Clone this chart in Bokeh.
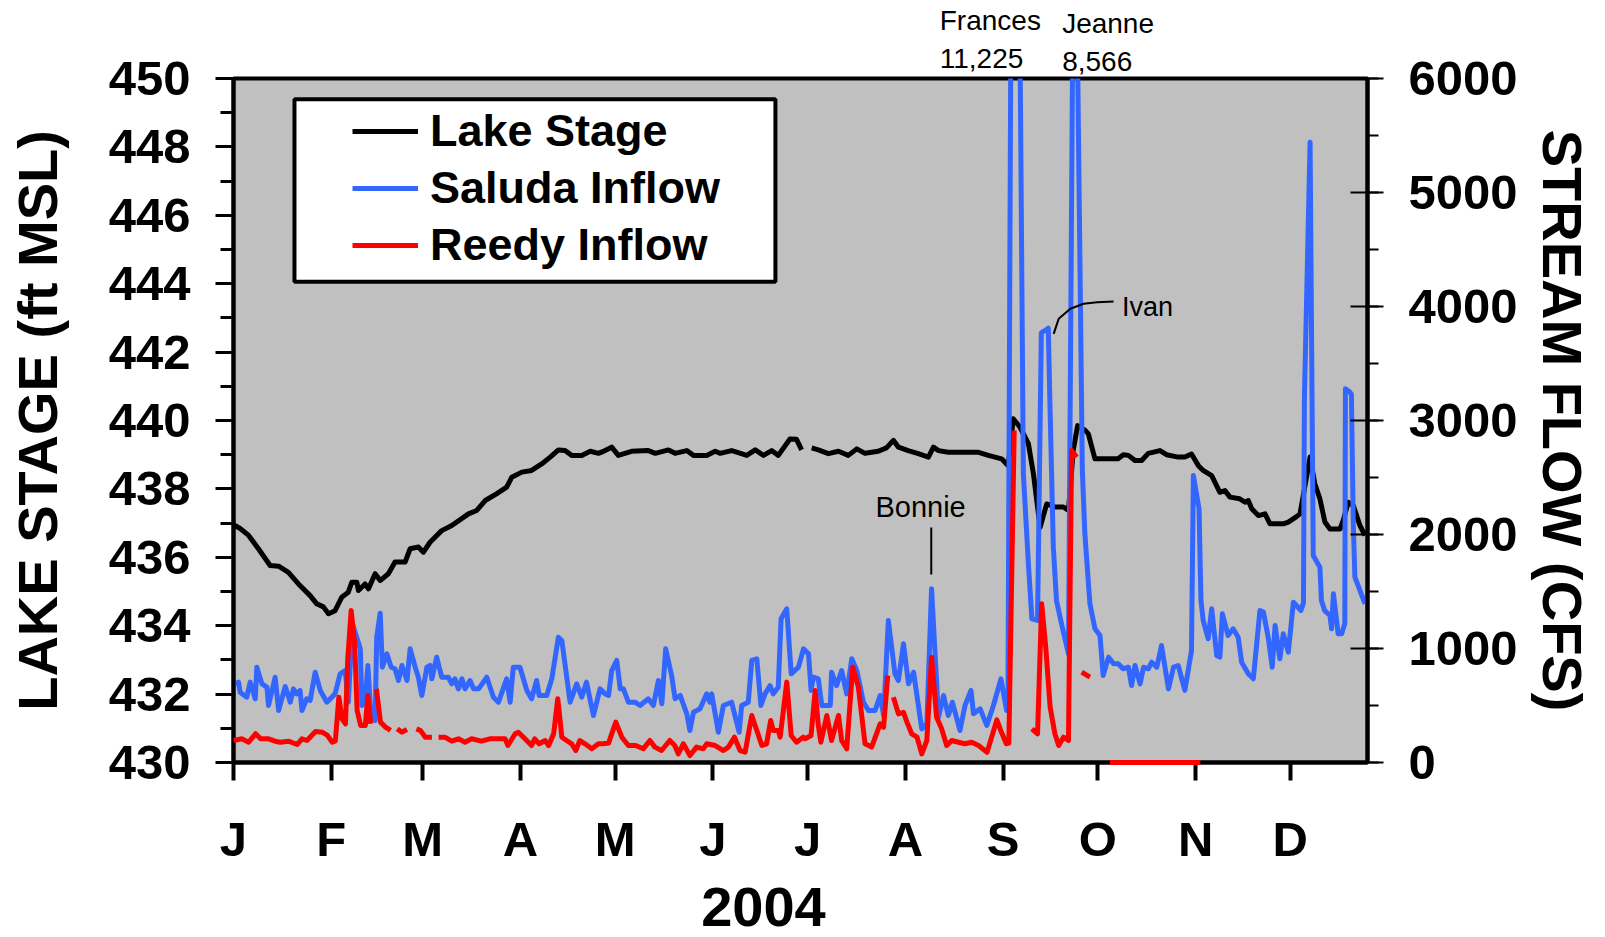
from bokeh.plotting import figure
from bokeh.layouts import column
from bokeh.models import (LinearAxis, Range1d, SingleIntervalTicker, FixedTicker,
                          Legend, LegendItem, Label, BoxAnnotation)
from bokeh.core.properties import value
from bokeh.embed import file_html
from bokeh.resources import INLINE

NaN = float("nan")

# ---------------- data (day of year 2004, 0 = Jan 1) ----------------
MONTH_DAYS = [0, 31, 60, 91, 121, 152, 182, 213, 244, 274, 305, 335]
MONTH_LABELS = ["J", "F", "M", "A", "M", "J", "J", "A", "S", "O", "N", "D"]

stage_day = [0.0, 2.0, 4.8, 7.9, 11.6, 14.3, 17.4, 20.6, 24.3, 26.4,
             28.5, 30.1, 32.2, 34.3, 36.4, 37.5, 39.1, 39.6, 41.7, 42.8,
             44.9, 46.5, 49.1, 51.2, 54.4, 56.0, 58.6, 60.2, 62.3, 66.0,
             69.2, 74.5, 77.1, 79.8, 83.5, 86.6, 88.2, 91.4, 94.5, 97.7,
             100.4, 103.0, 105.1, 107.2, 110.4, 113.1, 115.7, 117.8, 119.9, 122.0,
             126.2, 131.5, 133.7, 137.9, 140.0, 143.7, 145.8, 150.0, 152.7, 154.3,
             157.9, 160.0, 162.7, 165.4, 168.0, 170.6, 172.7, 176.4, 178.5, 180.1,
             181.5, 183.3, 185.4, 188.6, 191.8, 194.9, 197.6, 200.2, 204.4, 207.0,
             209.2, 210.8, 213.9, 217.1, 220.3, 221.9, 223.5, 226.6, 231.9, 236.2,
             239.3, 243.5, 245.6, 247.2, 249.3, 252.0, 253.6, 255.7, 257.8, 260.4,
             263.1, 264.7, 266.2, 267.6, 270.0, 271.0, 273.1, 275.2, 280.4, 282.1,
             283.7, 285.8, 287.9, 290.0, 293.7, 295.8, 299.5, 301.6, 303.7, 305.9,
             307.4, 310.1, 312.7, 314.3, 315.9, 319.0, 320.7, 321.7, 322.8, 324.9,
             327.0, 328.6, 332.8, 334.4, 337.0, 338.1, 341.3, 342.8, 344.4, 346.0,
             347.6, 350.8, 351.8, 353.4, 355.0, 357.1, 358.7]
stage_ft = [436.95, 436.85, 436.64, 436.25, 435.76, 435.74, 435.56, 435.22, 434.88, 434.64,
            434.55, 434.35, 434.44, 434.83, 434.98, 435.27, 435.27, 435.03, 435.22, 435.08,
            435.52, 435.32, 435.52, 435.86, 435.86, 436.25, 436.30, 436.15, 436.44, 436.78,
            436.93, 437.27, 437.37, 437.66, 437.86, 438.05, 438.34, 438.49, 438.54, 438.73,
            438.93, 439.14, 439.12, 438.98, 438.98, 439.10, 439.04, 439.12, 439.22, 438.98,
            439.10, 439.12, 439.04, 439.14, 439.04, 439.12, 438.98, 438.98, 439.10, 439.04,
            439.12, 439.06, 438.98, 439.14, 438.98, 439.12, 438.98, 439.46, 439.45, 439.14,
            NaN, 439.20, 439.14, 439.03, 439.10, 438.98, 439.17, 439.04, 439.10, 439.20,
            439.42, 439.22, 439.12, 439.03, 438.93, 439.22, 439.12, 439.07, 439.07, 439.07,
            438.98, 438.88, 438.68, 440.05, 439.81, 439.32, 438.44, 436.88, 437.56, 437.47,
            437.47, 437.37, 439.12, 439.85, 439.71, 439.61, 438.88, 438.88, 438.88, 439.00,
            438.98, 438.83, 438.83, 439.04, 439.12, 439.00, 438.93, 438.93, 439.02, 438.68,
            438.54, 438.39, 437.90, 437.95, 437.76, 437.71, 437.61, 437.66, 437.42, 437.22,
            437.27, 436.98, 436.98, 437.03, 437.19, 437.27, 438.93, 438.15, 437.71, 437.03,
            436.83, 436.83, 437.08, 437.61, 437.51, 436.93, 436.64]

saluda_day = [0.5, 1.6, 2.1, 4.2, 5.3, 6.9, 7.4, 9.0, 10.6, 11.1,
              13.2, 14.3, 16.4, 18.0, 19.0, 20.0, 21.1, 21.7, 23.2, 24.3,
              25.9, 27.5, 29.6, 32.2, 33.8, 35.4, 36.4, 37.7, 40.2, 40.7,
              41.7, 42.6, 43.6, 44.9, 45.4, 46.5, 47.2, 48.6, 50.0, 51.2,
              52.3, 53.4, 55.0, 56.0, 57.6, 58.6, 59.7, 61.3, 62.3, 62.9,
              64.4, 66.0, 68.1, 69.2, 70.2, 71.3, 72.4, 73.4, 75.0, 76.1,
              77.7, 80.3, 82.4, 84.0, 86.6, 87.7, 88.7, 90.8, 93.0, 94.5,
              96.1, 96.9, 99.3, 100.9, 103.0, 104.1, 106.7, 108.8, 110.4, 111.9,
              114.1, 116.2, 117.8, 118.9, 119.9, 121.5, 122.6, 123.6, 125.2, 127.3,
              128.9, 131.5, 133.1, 134.7, 135.8, 137.0, 138.9, 140.0, 141.6, 143.7,
              144.7, 145.8, 147.9, 150.0, 151.0, 151.6, 153.7, 155.3, 157.9, 160.3,
              161.1, 163.2, 164.3, 165.9, 167.2, 168.5, 170.1, 171.1, 172.7, 173.6,
              175.4, 176.8, 179.1, 180.7, 182.3, 183.1, 183.8, 185.4, 186.5, 189.2,
              189.6, 191.2, 192.8, 194.4, 196.0, 197.6, 199.7, 201.3, 203.4, 205.0,
              206.1, 207.6, 209.7, 210.8, 212.4, 214.0, 215.6, 218.2, 219.8, 221.3,
              223.5, 225.1, 226.6, 227.9, 230.3, 231.9, 233.8, 234.6, 236.7, 238.8,
              240.9, 243.3, 245.1, 245.5, 247.2, 249.0, 250.4, 252.0, 253.1, 254.9,
              256.1, 257.3, 258.3, 258.9, 259.9, 260.9, 262.5, 264.7, 266.6, 269.1,
              269.9, 271.5, 273.1, 274.7, 275.7, 277.4, 279.0, 280.5, 282.0, 283.7,
              284.7, 285.8, 287.4, 288.5, 290.0, 291.1, 292.7, 294.2, 296.4, 298.0,
              299.5, 301.6, 303.7, 304.3, 306.1, 306.7, 307.4, 309.0, 310.1, 311.7,
              312.7, 313.5, 315.3, 316.9, 318.5, 319.6, 321.7, 323.3, 325.4, 326.5,
              328.1, 329.3, 330.2, 331.7, 332.8, 334.4, 336.0, 338.4, 339.2, 339.5,
              341.3, 342.3, 344.4, 344.9, 345.9, 347.6, 348.1, 348.7, 350.2, 351.3,
              352.3, 352.5, 353.9, 354.4, 355.0, 355.5, 357.1, 358.7]
saluda_cfs = [690, 705, 617, 573, 705, 559, 836, 690, 661, 500,
              748, 456, 667, 529, 646, 602, 632, 456, 559, 544,
              792, 632, 529, 602, 778, 807, 529, 1217, 997, 500,
              529, 851, 397, 368, 1099, 1310, 836, 953, 836, 822,
              719, 851, 719, 997, 836, 748, 588, 836, 851, 734,
              924, 748, 748, 690, 734, 646, 734, 646, 719, 646,
              646, 748, 573, 529, 734, 529, 836, 836, 632, 559,
              719, 588, 588, 734, 1099, 1070, 529, 690, 573, 705,
              412, 646, 602, 588, 807, 895, 646, 646, 529, 529,
              500, 559, 500, 719, 515, 997, 763, 559, 588, 427,
              281, 441, 471, 602, 529, 602, 266, 500, 529, 266,
              500, 529, 895, 910, 500, 602, 675, 602, 661, 1261,
              1348, 778, 836, 997, 953, 632, 748, 734, 500, 500,
              792, 675, 807, 602, 910, 807, 529, 456, 456, 588,
              412, 1246, 778, 719, 1041, 690, 792, 295, 339, 1524,
              397, 588, 412, 529, 281, 500, 632, 427, 471, 325,
              500, 734, 456, 460, 11225, 7500, 2532, 1743, 1261, 1246,
              3770, 3790, 3810, 3059, 1889, 1421, 1217, 953, 8566, 2561,
              2006, 1392, 1173, 1114, 763, 924, 866, 866, 822, 836,
              675, 851, 690, 836, 822, 880, 836, 1026, 646, 836,
              851, 632, 982, 2518, 2225, 1421, 1246, 1085, 1348, 939,
              924, 1304, 1114, 1173, 1099, 880, 778, 734, 1333, 1320,
              1085, 836, 1202, 910, 1129, 968, 1406, 1333, 1400, 3200,
              5440, 1816, 1713, 1421, 1333, 1290, 1173, 1480, 1129, 1129,
              1217, 3278, 3249, 3230, 2094, 1626, 1509, 1392]

reedy_day = [0.1, 1.2, 2.6, 4.8, 7.0, 8.6, 11.1, 13.2, 14.8, 17.4,
             20.2, 21.7, 23.3, 26.0, 28.1, 29.7, 31.3, 32.3, 33.4, 34.4,
             35.5, 36.2, 37.3, 38.4, 39.2, 40.3, 41.8, 42.6, 43.5, 44.4,
             45.3, 46.6, 48.2, 49.8, 50.8, 51.9, 53.4, 55.0, 56.5, 58.0,
             59.3, 60.8, 62.9, 64.0, 65.0, 67.0, 69.2, 71.3, 73.4, 75.5,
             78.6, 81.3, 86.1, 87.0, 89.3, 90.3, 92.4, 94.5, 95.5, 96.9,
             98.8, 99.9, 101.5, 102.8, 104.1, 105.6, 107.2, 108.5, 109.8, 111.4,
             113.6, 115.7, 117.2, 118.9, 121.2, 123.1, 125.2, 127.5, 129.9, 132.0,
             133.6, 135.7, 138.3, 139.9, 141.0, 142.6, 144.7, 146.8, 148.9, 150.0,
             152.7, 155.3, 156.9, 158.8, 160.6, 162.2, 164.3, 165.9, 167.5, 169.0,
             170.3, 171.1, 172.7, 173.3, 175.4, 176.8, 178.5, 180.6, 181.2, 183.1,
             184.4, 185.4, 186.2, 188.1, 189.6, 191.8, 192.8, 194.4, 196.3, 198.1,
             200.2, 202.3, 205.0, 206.1, 207.4, 208.3, 209.2, 210.8, 212.4, 213.5,
             215.0, 216.7, 218.2, 219.8, 221.3, 222.9, 224.5, 226.1, 227.7, 229.8,
             231.9, 234.0, 236.2, 238.9, 242.0, 243.1, 245.0, 245.8, 247.5, 249.0,
             253.1, 254.9, 256.2, 257.5, 258.9, 260.4, 261.6, 263.1, 264.7, 265.7,
             267.3, 268.0, 268.9, 271.5, 272.5, 277.8, 306.5]
reedy_cfs = [193, 200, 208, 178, 252, 208, 208, 187, 178, 187,
             158, 208, 193, 272, 266, 240, 178, 190, 573, 383,
             339, 895, 1333, 1041, 456, 325, 325, 588, 339, NaN,
             646, 354, 310, 281, NaN, 295, 266, 290, NaN, 295,
             280, 222, 222, NaN, 222, 222, 187, 208, 178, 208,
             187, 208, 208, 149, 252, 266, 208, 149, 208, 164,
             193, 149, 252, 559, 222, 193, 164, 105, 193, 164,
             120, 164, 164, 170, 354, 222, 149, 149, 120, 193,
             135, 105, 193, 149, 76, 164, 61, 135, 120, 164,
             149, 105, 135, 222, 105, 90, 412, 281, 149, 164,
             368, 281, 281, 222, 705, 237, 178, 222, 208, 237,
             632, 325, 178, 412, 193, 412, 193, 120, 836, 661,
             164, 135, 339, 310, 763, NaN, 573, 427, 440, 354,
             252, 222, 76, 193, 924, 397, 295, 149, 193, 178,
             164, 178, 149, 90, 374, 290, 164, 170, 2912, NaN,
             295, 252, 1392, 1011, 485, 252, 149, 222, 193, 2737,
             2678, NaN, 792, 748, NaN, 0, 0]

for a, b in ((stage_day, stage_ft), (saluda_day, saluda_cfs), (reedy_day, reedy_cfs)):
    if len(a) != len(b):
        raise ValueError("length mismatch %d %d" % (len(a), len(b)))

# ---------------- layout constants ----------------
FONT = "Liberation Sans"
BLUE = "#3366FF"
RED = "#FF0000"
GRAY = "#C0C0C0"
LEFT_B, RIGHT_B = 233, 230
FRAME_W, FRAME_H = 1134, 684
MAIN_TOP_B = 30          # room for the top tick labels
MAIN_BOTTOM_B = 110
TOP_STRIP_H = 100        # strip holding the storm notes (overlaps main's top border)
OVERLAP = TOP_STRIP_H - (78 - MAIN_TOP_B)
BOTTOM_STRIP_H = 937 - 78 - FRAME_H - MAIN_BOTTOM_B

x_rng = Range1d(0, 359.5)

p = figure(frame_width=FRAME_W, frame_height=FRAME_H, title=None,
           x_range=x_rng, y_range=Range1d(430, 450),
           output_backend="svg", toolbar_location=None,
           min_border_left=LEFT_B, min_border_right=RIGHT_B,
           min_border_top=MAIN_TOP_B, min_border_bottom=MAIN_BOTTOM_B,
           background_fill_color=GRAY, border_fill_color="white",
           border_fill_alpha=0.0,
           outline_line_color="black", outline_line_width=4)
p.margin = (-OVERLAP, 0, 0, 0)
p.extra_y_ranges = {"flow": Range1d(0, 6000)}
p.xgrid.visible = False
p.ygrid.visible = False

xa = p.xaxis[0]
ya = p.yaxis[0]
ra = LinearAxis(y_range_name="flow",
                ticker=SingleIntervalTicker(interval=1000, num_minor_ticks=2))
p.add_layout(ra, "right")

xa.ticker = FixedTicker(ticks=MONTH_DAYS, minor_ticks=[])
xa.major_label_overrides = {d: m for d, m in zip(MONTH_DAYS, MONTH_LABELS)}
ya.ticker = SingleIntervalTicker(interval=2, num_minor_ticks=2)

for ax in (xa, ya, ra):
    ax.axis_line_color = "black"
    ax.axis_line_width = 4
    ax.major_tick_line_color = "black"
    ax.minor_tick_line_color = "black"
    ax.major_label_text_font = FONT
    ax.major_label_text_font_style = "bold"
    ax.major_label_text_font_size = "49px"
    ax.major_label_text_color = "black"
    ax.axis_label_text_font = FONT
    ax.axis_label_text_font_style = "bold"
    ax.axis_label_text_font_size = "56px"
    ax.axis_label_text_color = "black"

xa.major_tick_line_width = 4
xa.major_tick_out = 18
xa.major_tick_in = 0
xa.major_label_standoff = 31

ya.major_tick_line_width = 3
ya.minor_tick_line_width = 3
ya.major_tick_out = 18
ya.major_tick_in = 0
ya.minor_tick_out = 13
ya.minor_tick_in = 0
ya.major_label_standoff = 25
ya.axis_label = "LAKE STAGE (ft MSL)"
ya.axis_label_standoff = 37

ra.major_tick_line_width = 2
ra.minor_tick_line_width = 2
ra.major_tick_out = 16
ra.major_tick_in = 17
ra.minor_tick_out = 11
ra.minor_tick_in = 0
ra.major_label_standoff = 25
ra.axis_label = "STREAM FLOW (CFS)"
ra.axis_label_standoff = 10

# ---------------- series ----------------
r_stage = p.line(stage_day, stage_ft, line_color="black", line_width=5,
                 line_join="round")
r_sal = p.line(saluda_day, saluda_cfs, y_range_name="flow", line_color=BLUE,
               line_width=5, line_join="round")
r_ree = p.line(reedy_day, reedy_cfs, y_range_name="flow", line_color=RED,
               line_width=5, line_join="round", level="overlay")

# ---------------- legend ----------------
box = BoxAnnotation(left=19.33, right=171.8, top=449.39, bottom=444.06,
                    fill_color="white", fill_alpha=1.0,
                    line_color="black", line_width=4, line_alpha=1.0)
p.add_layout(box)

legend = Legend(items=[LegendItem(label=value("Lake Stage"), renderers=[r_stage]),
                       LegendItem(label=value("Saluda Inflow"), renderers=[r_sal]),
                       LegendItem(label=value("Reedy Inflow"), renderers=[r_ree])],
                location=(119, 491), orientation="vertical",
                padding=0, margin=0, spacing=5,
                glyph_width=66, glyph_height=50, label_height=50, label_standoff=12,
                label_text_font=FONT, label_text_font_size="45px",
                label_text_font_style="bold", label_text_color="black",
                border_line_alpha=0, background_fill_alpha=0)
p.add_layout(legend)

# ---------------- annotations (y = vertical centre of the text) ----------------
def note(fig, text, x, y, size="28px", rng="flow", align="left", style="normal"):
    fig.add_layout(Label(x=x, y=y, y_range_name=rng, text=text, text_font=FONT,
                         text_font_size=size, text_font_style=style,
                         text_color="black", text_align=align,
                         text_baseline="middle"))

note(p, "Bonnie", 203.5, 2237, size="29px")
note(p, "Ivan", 281.7, 4000, size="27px")
p.line([221.2, 221.2], [2061, 1649], y_range_name="flow", line_color="black",
       line_width=2)
p.line([260.0, 261.6, 265.3, 269.5, 273.8, 279.0],
       [3760, 3892, 3980, 4024, 4038, 4044], y_range_name="flow",
       line_color="black", line_width=2, line_join="round")


def strip(height):
    f = figure(frame_width=FRAME_W, frame_height=height, title=None,
               x_range=x_rng, y_range=Range1d(0, height),
               x_axis_type=None, y_axis_type=None,
               output_backend="svg", toolbar_location=None,
               min_border_left=LEFT_B, min_border_right=RIGHT_B,
               min_border_top=0, min_border_bottom=0,
               background_fill_color="white", border_fill_color="white",
               outline_line_color=None)
    f.xgrid.visible = False
    f.ygrid.visible = False
    return f

# strip above the frame: peak flows that run off the top of the chart
top = strip(TOP_STRIP_H)
note(top, "Frances", 223.9, TOP_STRIP_H - 20.0, rng="default")
note(top, "11,225", 223.9, TOP_STRIP_H - 57.7, rng="default")
note(top, "Jeanne", 262.7, TOP_STRIP_H - 23.3, rng="default")
note(top, "8,566", 262.7, TOP_STRIP_H - 60.7, rng="default")

# strip below the axis: the year title
bottom = strip(BOTTOM_STRIP_H)
note(bottom, "2004", 168.0, 937 - 906, size="56px", rng="default", align="center",
     style="bold")

layout = column(top, p, bottom, spacing=0)
open("out.html", "w").write(file_html(layout, INLINE))
